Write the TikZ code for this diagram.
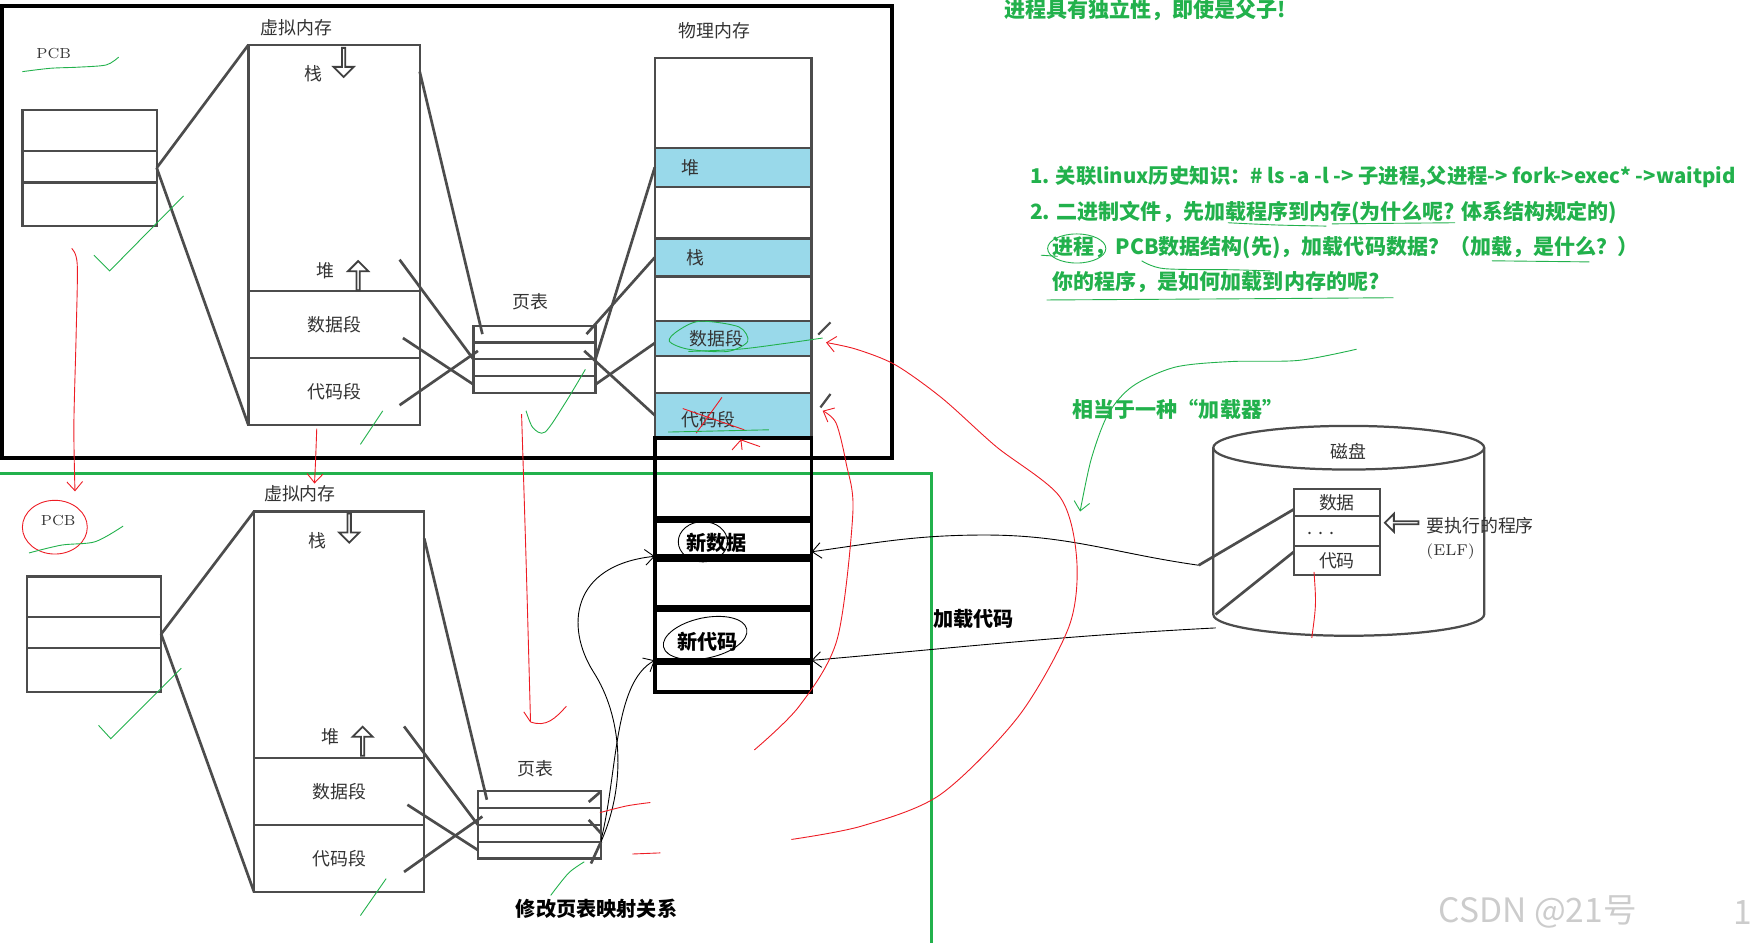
\documentclass[tikz,border=0pt]{standalone}
\usepackage{fontspec}
\usepackage{tikz}
\usetikzlibrary{arrows.meta,calc,positioning,shapes.arrows}
\newfontfamily\cjk{Noto Sans CJK SC}
\definecolor{memblue}{RGB}{153,217,234}
\definecolor{pengreen}{RGB}{34,177,76}
\definecolor{penred}{RGB}{237,28,36}
\tikzset{
    >={Straight Barb[length=4pt,width=7pt]},
    membox/.style={
           rectangle,
           draw=black!70, line width=1pt,
           inner sep=0pt, outer sep=0pt,
           font=\cjk\fontsize{8}{9.5}\selectfont,
           text=black!80},
    pmbox/.style={
           membox,
           minimum width=70pt},
    bluebox/.style={
           pmbox,
           fill=memblue},
    ptrow/.style={
           membox,
           minimum width=54.5pt,
           minimum height=7.5pt},
    newbox/.style={
           rectangle,
           draw=black, line width=1.7pt,
           minimum width=70pt,
           inner sep=0pt, outer sep=0pt},
    divider/.style={
           draw=black!70,
           line width=1pt},
    lbl/.style={
           font=\cjk\fontsize{8}{9.5}\selectfont,
           text=black!80,
           inner sep=1pt},
    boldlbl/.style={
           font=\cjk\bfseries\fontsize{9}{11}\selectfont,
           inner sep=1pt},
    note/.style={
           font=\cjk\bfseries\fontsize{9.4}{11}\selectfont,
           text=pengreen,
           anchor=west,
           inner sep=0pt},
    wire/.style={
           draw=black!70,
           line width=1.2pt},
    hollow/.style={
           single arrow,
           draw=black!75, fill=white,
           line width=0.8pt,
           minimum height=13pt, minimum width=9pt,
           single arrow head extend=2pt,
           inner sep=0pt},
    redpen/.style={draw=penred, line width=0.4pt},
    greenpen/.style={draw=pengreen, line width=0.4pt},
    blackpen/.style={draw=black, line width=0.4pt}
}
\begin{document}
\begin{tikzpicture}[x=0.5pt, y=-0.5pt]
    \useasboundingbox (0,0) rectangle (1568,842);
    % frames round the two states
    \draw[line width=1.75pt] (2,5) rectangle (797,409);
    \draw[pengreen, line width=1.5pt] (-5,423) -- (832,423) -- (832,850);

    % ---- first state ----
    \node[lbl, font=\fontsize{6.5}{8}\selectfont] (pcbl1) at (48,48) {PCB};
    \node[membox, minimum width=60pt, minimum height=52pt] (pcb1) at (80,150) {};
    \draw[divider] (20,135) -- (140,135) (20,163) -- (140,163);
    \node[lbl] (vml1) at (265,25) {虚拟内存};
    \node[membox, minimum width=76.5pt, minimum height=170pt] (vm1) at (298.5,210) {};
    \node[membox, minimum width=76.5pt, minimum height=30pt] (vd1) at (298.5,290) {数据段};
    \node[membox, minimum width=76.5pt, minimum height=30pt, below=0pt of vd1] (vc1) {代码段};
    \node[lbl] (vs1) at (280,66) {栈};
    \node[hollow, rotate=-90] (vsa1) at (307,55) {};
    \node[lbl] (vh1) at (291,242) {堆};
    \node[hollow, rotate=90] (vha1) at (320,247) {};
    \draw[wire] (pcb1.east) -- (vm1.north west);
    \draw[wire] (pcb1.east) -- (vm1.south west);

    \node[lbl] (ptl1) at (474,270) {页表};
    \node[ptrow] (pt1a) at (477.5,298.5) {};
    \node[ptrow, below=0pt of pt1a] (pt1b) {};
    \node[ptrow, below=0pt of pt1b] (pt1c) {};
    \node[ptrow, below=0pt of pt1c] (pt1d) {};
    \draw[wire] ([yshift=-12pt]vm1.north east) -- ([xshift=4pt]pt1a.west);
    \draw[wire] ([xshift=-9pt,yshift=14pt]vd1.north east) -- (pt1b.south west);
    \draw[wire] ([xshift=-7.5pt,yshift=-6pt]vd1.east) -- (pt1d.west);
    \draw[wire] ([xshift=-9pt,yshift=-6pt]vc1.east) -- ([xshift=2pt]pt1b.west);

    \node[lbl] (pml) at (638,27) {物理内存};
    \node[pmbox, minimum height=40pt] (pm0) at (655,92) {};
    \node[bluebox, minimum height=17.5pt, below=0pt of pm0] (pmheap) {};
    \node[pmbox, minimum height=23pt, below=0pt of pmheap] (pm1) {};
    \node[bluebox, minimum height=17pt, below=0pt of pm1] (pmstk) {};
    \node[pmbox, minimum height=20pt, below=0pt of pmstk] (pm2) {};
    \node[bluebox, minimum height=15.5pt, below=0pt of pm2] (pmdat) {};
    \node[pmbox, minimum height=16.5pt, below=0pt of pmdat] (pm3) {};
    \node[bluebox, minimum height=20pt, below=0pt of pm3] (pmcod) {};
    \node[lbl] (lheap) at ([xshift=16pt]pmheap.west) {堆};
    \node[lbl] (lstk) at ([xshift=18pt]pmstk.west) {栈};
    \node[lbl] (ldat) at ([xshift=27.5pt]pmdat.west) {数据段};
    \node[lbl] (lcod) at ([xshift=24pt,yshift=-2pt]pmcod.west) {代码段};
    \draw[wire] (pmheap.west) -- (pt1c.north east);
    \draw[wire] (pmstk.west) -- ([xshift=-4pt]pt1a.east);
    \draw[wire] ([yshift=-2pt]pmdat.west) -- (pt1d.east);
    \draw[wire] ([xshift=-5pt]pt1b.east) -- (pmcod.west);
    \draw[wire, line width=1pt] (742,288) -- (731,299);
    \draw[wire, line width=1pt] (742,352) -- (733,364);

    % new frames in physical memory
    \node[newbox, minimum height=36pt, below=0pt of pmcod] (nb1) {};
    \node[newbox, minimum height=15.5pt, below=1.5pt of nb1] (nb2) {};
    \node[newbox, minimum height=21pt, below=1.5pt of nb2] (nb3) {};
    \node[newbox, minimum height=22.5pt, below=1.5pt of nb3] (nb4) {};
    \node[newbox, minimum height=13pt, below=1pt of nb4] (nb5) {};
    \node[boldlbl] (lnd) at (640,485) {新数据};
    \node[boldlbl] (lnc) at (632,573) {新代码};

    % ---- second state ----
    \node[lbl, font=\fontsize{6.5}{8}\selectfont] (pcbl2) at (52,465) {PCB};
    \node[membox, minimum width=60pt, minimum height=51.5pt] (pcb2) at (84,566.5) {};
    \draw[divider] (24,551) -- (144,551) (24,579) -- (144,579);
    \node[lbl] (vml2) at (268,441) {虚拟内存};
    \node[membox, minimum width=76pt, minimum height=170pt] (vm2) at (303,627) {};
    \node[membox, minimum width=76pt, minimum height=30pt] (vd2) at (303,707) {数据段};
    \node[membox, minimum width=76pt, minimum height=30pt, below=0pt of vd2] (vc2) {代码段};
    \node[lbl] (vs2) at (284,483) {栈};
    \node[hollow, rotate=-90] (vsa2) at (312,471) {};
    \node[lbl] (vh2) at (295,658) {堆};
    \node[hollow, rotate=90] (vha2) at (324,663) {};
    \draw[wire] (pcb2.east) -- (vm2.north west);
    \draw[wire] (pcb2.east) -- (vm2.south west);

    \node[lbl] (ptl2) at (478,687) {页表};
    \node[ptrow, minimum width=55pt] (pt2a) at (482,714.5) {};
    \node[ptrow, minimum width=55pt, below=0pt of pt2a] (pt2b) {};
    \node[ptrow, minimum width=55pt, below=0pt of pt2b] (pt2c) {};
    \node[ptrow, minimum width=55pt, below=0pt of pt2c] (pt2d) {};
    \draw[wire] ([yshift=-12pt]vm2.north east) -- ([xshift=4pt]pt2a.west);
    \draw[wire] ([xshift=-9pt,yshift=14pt]vd2.north east) -- (pt2b.south west);
    \draw[wire] ([xshift=-7.5pt,yshift=-6pt]vd2.east) -- (pt2d.west);
    \draw[wire] ([xshift=-9pt,yshift=-6pt]vc2.east) -- ([xshift=2pt]pt2b.west);
    \draw[wire] ([xshift=-5.5pt,yshift=-1pt]pt2a.east) -- (pt2a.north east);
    \draw[wire] ([xshift=-5.5pt,yshift=6pt]pt2c.east) -- (pt2c.east);
    \draw[wire] ([xshift=-4.5pt,yshift=-6pt]pt2d.east) -- (pt2d.north east);
    \node[boldlbl] (remap) at (533,812) {修改页表映射关系};

    % ---- disk ----
    \draw[wire, line width=1pt] (1205,400) ellipse [x radius=60.5pt, y radius=9.75pt];
    \draw[wire, line width=1pt] (1084,400) -- (1084,549)
        arc[start angle=180, end angle=360, x radius=60.5pt, y radius=9.5pt] -- (1326,400);
    \node[lbl] (disk) at (1205,403) {磁盘};
    \node[membox, minimum width=38.5pt, minimum height=12pt] (f1) at (1194.5,449) {数据};
    \node[membox, minimum width=38.5pt, minimum height=13.5pt, below=0pt of f1] (f2) {};
    \node[membox, minimum width=38.5pt, minimum height=13pt, below=0pt of f2] (f3) {代码};
    \node[lbl] (fdots) at (1180,477) {.\,\,.\,\,.};
    \node[hollow, rotate=180, minimum height=15pt, minimum width=8pt] (elfarr) at (1253,467) {};
    \node[lbl, anchor=west] (elf) at (1272,470) {要执行的程序};
    \node[lbl, font=\fontsize{7}{8}\selectfont] (elf2) at (1296,493) {(ELF)};
    \coordinate (dl1) at (1071,505);
    \coordinate (dl2) at (1086,549);
    \coordinate (dl3) at (1086,561);
    \draw[wire] ([yshift=-3pt]f1.west) -- (dl1);
    \draw[wire] ([yshift=-2.5pt]f3.north west) -- (dl2);

    % ---- loading ----
    \draw[blackpen, ->] (dl1) to[out=172, in=0] (880,478) to[out=180, in=8] ([yshift=2pt]nb2.south east);
    \draw[blackpen, ->] (dl3) to[out=183, in=5] (nb4.south east);
    \node[boldlbl] (load) at (870,553) {加载代码};
    \draw[blackpen, ->] (pt2d.north east) .. controls (560,700) and (556,640) .. (530,600)
        .. controls (505,560) and (510,505) .. (nb2.south west);
    \draw[blackpen, ->] ([yshift=-3pt]pt2c.east) .. controls (552,690) and (548,610) .. (nb4.south west);
    \draw[blackpen] (628,484) ellipse [x radius=11pt, y radius=9pt];
    \draw[blackpen, rotate around={12:(630,570)}] (630,570) ellipse [x radius=19pt, y radius=9pt];

    % ---- notes ----
    \node[note] (n0) at (897,9) {进程具有独立性，即使是父子!};
    \node[note, font=\cjk\bfseries\fontsize{9.1}{11}\selectfont] (n1) at (920,158) {1. 关联linux历史知识：\# ls -a -l -> 子进程,父进程-> fork->exec* ->waitpid};
    \node[note] (n2) at (920,190) {2. 二进制文件，先加载程序到内存(为什么呢? 体系结构规定的)};
    \node[note] (n3) at (940,221) {进程，PCB数据结构(先)，加载代码数据？（加载，是什么？）};
    \node[note] (n4) at (940,252) {你的程序，是如何加载到内存的呢?};
    \node[note] (n5) at (958,366) {相当于一种“加载器”};
    \node[font=\cjk\fontsize{15}{17}\selectfont, text=black!20, anchor=west, inner sep=0pt] (wm) at (1285,815) {CSDN @21号};
    \node[font=\cjk\fontsize{15}{17}\selectfont, text=black!20, anchor=west, inner sep=0pt] (wm2) at (1548,815) {1};

    % ---- red pen ----
    \draw[redpen, ->] plot[smooth] coordinates {(64,222) (69,236) (68,300) (66,380) (67,439)};
    \draw[redpen, ->] plot[smooth] coordinates {(283,383) (282,410) (281,432)};
    \draw[redpen] plot[smooth] coordinates {(466,370) (470,500) (474,645)};
    \draw[redpen] (474,645) .. controls (488,650) and (496,642) .. (506,631);
    \draw[redpen] (468,636) -- (474,645);
    \draw[redpen, ->] plot[smooth] coordinates {(707,750) (770,738) (840,710) (910,640) (955,560) (962,500) (947,444) (890,399) (842,356) (800,326) (765,312) (738,306)};
    \draw[redpen, ->] plot[smooth] coordinates {(674,670) (714,631) (748,571) (762,458) (756,414) (747,378) (735,367)};
    \draw[redpen] plot[smooth] coordinates {(536,726) (560,720) (581,717)};
    \draw[redpen] (565,763) -- (590,762);
    \draw[redpen] (610,365) -- (665,384) (622,387) -- (645,355);
    \draw[redpen] (654,402) -- (662,393) -- (679,399) (662,393) -- (663,402);
    \draw[redpen] (1174,511) .. controls (1176,540) .. (1172,570);
    \draw[redpen] (49,471) ellipse [x radius=14.5pt, y radius=12pt];

    % ---- green pen ----
    \draw[greenpen] plot[smooth] coordinates {(20,64) (45,61) (70,60) (95,58) (106,51)};
    \draw[greenpen] (84,228) -- (98,242) -- (164,175);
    \draw[greenpen] plot[smooth] coordinates {(26,494) (55,487) (85,484) (110,470)};
    \draw[greenpen] (88,648) -- (99,660) -- (162,597);
    \draw[greenpen] (322,397) -- (342,367);
    \draw[greenpen] (322,818) -- (345,785);
    \draw[greenpen] plot[smooth] coordinates {(470,367) (476,382) (487,386) (505,360) (523,330)};
    \draw[greenpen] plot[smooth] coordinates {(492,800) (508,780) (522,770)};
    \draw[greenpen] plot[smooth cycle] coordinates {(605,296) (625,287) (660,292) (668,305) (650,314) (615,312) (598,305)};
    \draw[greenpen] plot[smooth] coordinates {(615,314) (660,312) (700,307) (735,302)};
    \draw[greenpen] (597,386) -- (687,384);
    \draw[greenpen] plot[smooth] coordinates {(1097,199) (1140,201) (1185,202)};
    \draw[greenpen] (1190,200) -- (1300,199);
    \draw[greenpen] (962,222) ellipse [x radius=13pt, y radius=6.5pt];
    \draw[greenpen] (930,228) -- (945,229);
    \draw[greenpen] plot[smooth] coordinates {(1020,233) (1040,240) (1100,241) (1135,242)};
    \draw[greenpen] (1333,233) -- (1420,234);
    \draw[greenpen] plot[smooth] coordinates {(935,268) (1100,267) (1245,266)};
    \draw[greenpen, ->] plot[smooth] coordinates {(1212,312) (1160,322) (1100,323) (1050,328) (1012,345) (990,370) (975,410) (965,457)};
\end{tikzpicture}
\end{document}
